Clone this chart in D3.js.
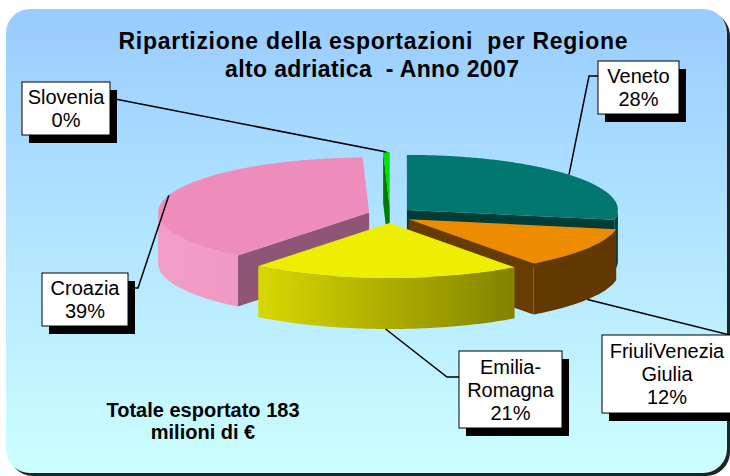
<!DOCTYPE html>
<html lang="it">
<head>
<meta charset="UTF-8">
<title>Ripartizione esportazioni alto adriatico 2007</title>
<script src="https://d3js.org/d3.v7.min.js"></script>
<style>
    body { margin: 0; background: #ffffff; }
    svg { display: block; }
    text { font-family: "Liberation Sans", Arial, sans-serif; white-space: pre; }
</style>
</head>
<body>
<div id="chart"></div>
<script>
// dati: esportazioni 2007, milioni di euro
const regions = ["Veneto", "Friuli Venezia Giulia", "Emilia-Romagna", "Croazia", "Slovenia"];
const values = [51, 22, 38, 71, 0.9];
const labelLines = [["Veneto"], ["FriuliVenezia", "Giulia"], ["Emilia-", "Romagna"], ["Croazia"], ["Slovenia"]];
const titleLines = ["Ripartizione della esportazioni  per Regione", "alto adriatica  - Anno 2007"];

// colori (faccia superiore, fianchi radiali, sfumatura parete esterna)
const topColors = ["#00786f", "#ee8c00", "#eeee00", "#ee8cbb", "#00e000"];
const faceColors = ["#003d39", "#663c00", "#6e6e00", "#8e5674", "#007a00"];
const wallStops = [["#005a54", "#003d39"], ["#6e4200", "#603800"], ["#f2f200", "#666600"], ["#f29dc7", "#d67ca9"], ["#00cc00", "#008800"]];

// posizione delle etichette
const labelLayout = [
    { x: 598, y: 61, w: 81, h: 53, path: [[589, 76], [598, 76]] },
    { x: 602, y: 335, w: 136, h: 78, path: [[730, 335]] },
    { x: 459, y: 351, w: 103, h: 77, path: [[447, 377], [459, 377]] },
    { x: 42, y: 273, w: 86, h: 53, path: [[138, 288], [128, 288]] },
    { x: 22, y: 82, w: 88, h: 53, path: [[110, 98]] }
];

const w = 730, h = 476;
const cx = 390, cy = 215, rx = 211, ry = 55, depth = 51;
const explodeX = 22, explodeY = 8;

const svg = d3.select("#chart").append("svg")
    .attr("width", w)
    .attr("height", h);

const defs = svg.append("defs");

const bg = defs.append("linearGradient")
    .attr("id", "bg")
    .attr("x1", 0).attr("y1", 0).attr("x2", 0).attr("y2", 1);
bg.append("stop").attr("offset", "0%").attr("stop-color", "#99ccff");
bg.append("stop").attr("offset", "100%").attr("stop-color", "#ccffff");

wallStops.forEach((s, i) => {
    const g = defs.append("linearGradient")
        .attr("id", "wall" + i)
        .attr("gradientUnits", "userSpaceOnUse")
        .attr("x1", cx - rx).attr("y1", 0)
        .attr("x2", cx + rx).attr("y2", 0);
    g.append("stop").attr("offset", "0%").attr("stop-color", s[0]);
    g.append("stop").attr("offset", "100%").attr("stop-color", s[1]);
});

// riquadro di fondo
svg.append("rect")
    .attr("x", 9).attr("y", 12)
    .attr("width", 721).attr("height", 464)
    .attr("rx", 24)
    .attr("fill", "#222");

svg.append("rect")
    .attr("x", 6).attr("y", 9)
    .attr("width", 721).attr("height", 464)
    .attr("rx", 24)
    .attr("fill", "url(#bg)");

// torta 3D esplosa
const arcs = d3.pie().sort(null).value(d => d)(values);
const total = d3.sum(values);
const pct = d3.format(".0%");

arcs.forEach((a, i) => {
    a.index = i;
    a.mid = (a.startAngle + a.endAngle) / 2;
    a.o = [cx + explodeX * Math.sin(a.mid), cy - explodeY * Math.cos(a.mid)];
});

function ellPt(o, ang, dz = 0) {
    return [o[0] + rx * Math.sin(ang), o[1] - ry * Math.cos(ang) + dz];
}

function arcPts(o, a0, a1, dz = 0) {
    const n = Math.max(2, Math.ceil((a1 - a0) / 0.01));
    return d3.range(n + 1).map(k => ellPt(o, a0 + (a1 - a0) * k / n, dz));
}

function outerWall(a) {
    const lo = Math.max(a.startAngle, Math.PI / 2);
    const hi = Math.min(a.endAngle, 3 * Math.PI / 2);
    if (hi <= lo) return null;
    const top = arcPts(a.o, lo, hi);
    const bottom = arcPts(a.o, lo, hi, depth).reverse();
    return "M" + top.concat(bottom).join("L") + "Z";
}

function radialFace(a, ang) {
    const p = ellPt(a.o, ang);
    return "M" + [a.o, p, [p[0], p[1] + depth], [a.o[0], a.o[1] + depth]].join("L") + "Z";
}

const pie = svg.append("g");

// pareti: dal fondo verso il davanti
arcs.slice()
    .sort((p, q) => -Math.cos(p.mid) + Math.cos(q.mid))
    .forEach(a => {
        if (Math.cos(a.startAngle - Math.PI / 2) < -0.01) {
            pie.append("path").attr("d", radialFace(a, a.startAngle)).attr("fill", faceColors[a.index]);
        }
        if (Math.cos(a.endAngle + Math.PI / 2) < -0.01) {
            pie.append("path").attr("d", radialFace(a, a.endAngle)).attr("fill", faceColors[a.index]);
        }
        const wp = outerWall(a);
        if (wp) pie.append("path").attr("d", wp).attr("fill", `url(#wall${a.index})`);
    });

// facce superiori
pie.selectAll("path.top")
    .data(arcs)
    .enter()
    .append("path")
    .attr("class", "top")
    .attr("d", a => "M" + [a.o].concat(arcPts(a.o, a.startAngle, a.endAngle)).join("L") + "Z")
    .attr("fill", a => topColors[a.index]);

// linee guida
arcs.forEach((a, i) => {
    const start = ellPt(a.o, a.mid, Math.cos(a.mid) < 0 ? depth : 0);
    svg.append("path")
        .attr("d", "M" + [start].concat(labelLayout[i].path).join("L"))
        .attr("fill", "none")
        .attr("stroke", "#000")
        .attr("stroke-width", 1.5);
});

// etichette
arcs.forEach((a, i) => {
    const b = labelLayout[i];
    const lines = labelLines[i].concat(pct(values[i] / total));
    svg.append("rect")
        .attr("x", b.x + 7).attr("y", b.y + 8)
        .attr("width", b.w).attr("height", b.h)
        .attr("fill", "#000");
    svg.append("rect")
        .attr("x", b.x).attr("y", b.y)
        .attr("width", b.w).attr("height", b.h)
        .attr("fill", "#fff")
        .attr("stroke", "#000")
        .attr("stroke-width", 1);
    const mid = b.y + b.h / 2;
    lines.forEach((t, j) => {
        svg.append("text")
            .attr("x", b.x + (i === 1 ? 65 : b.w / 2))
            .attr("y", mid + (j - (lines.length - 1) / 2) * 23 + 7)
            .attr("text-anchor", "middle")
            .attr("font-size", "20px")
            .attr("fill", "#000")
            .text(t);
    });
});

// titolo
svg.append("text")
    .attr("x", 373).attr("y", 49)
    .attr("text-anchor", "middle")
    .attr("font-size", "23px")
    .attr("font-weight", "bold")
    .attr("textLength", 509)
    .attr("lengthAdjust", "spacing")
    .text(titleLines[0]);

svg.append("text")
    .attr("x", 372).attr("y", 77)
    .attr("text-anchor", "middle")
    .attr("font-size", "23px")
    .attr("font-weight", "bold")
    .attr("textLength", 294)
    .attr("lengthAdjust", "spacing")
    .text(titleLines[1]);

// totale
svg.append("text")
    .attr("x", 203).attr("y", 417)
    .attr("text-anchor", "middle")
    .attr("font-size", "20px")
    .attr("font-weight", "bold")
    .text(`Totale esportato ${Math.round(total)}`);

svg.append("text")
    .attr("x", 203).attr("y", 439)
    .attr("text-anchor", "middle")
    .attr("font-size", "20px")
    .attr("font-weight", "bold")
    .text("milioni di €");
</script>
</body>
</html>
